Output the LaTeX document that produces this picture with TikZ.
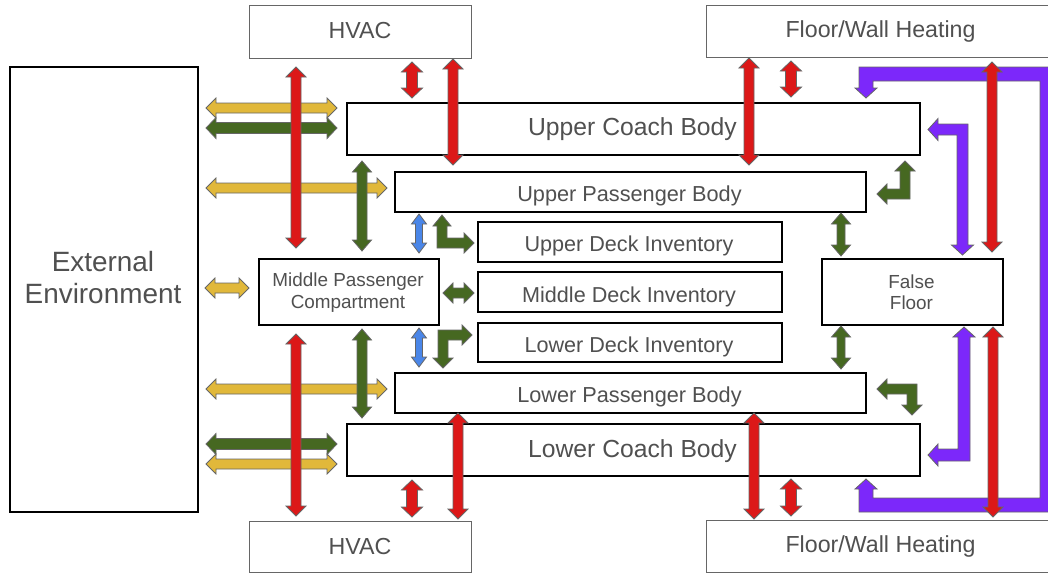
\documentclass[tikz,border=0pt]{standalone}
\usepackage{fontspec}
\setmainfont{Liberation Sans}
\definecolor{cYel}{RGB}{225,184,58}
\definecolor{cGrn}{RGB}{70,104,33}
\definecolor{cRed}{RGB}{220,24,24}
\definecolor{cBlu}{RGB}{74,134,232}
\definecolor{cPur}{RGB}{124,40,250}
\definecolor{cEdge}{RGB}{102,102,102}
\definecolor{cText}{RGB}{80,80,80}
\tikzset{
  mainbox/.style={draw=black, line width=2pt, fill=white, inner sep=0pt,
    anchor=north west},
  srcbox/.style={draw=cEdge, line width=1.1pt, fill=white, inner sep=0pt,
    anchor=north west},
  lbl/.style={text=cText, align=center, inner sep=0pt},
  blockarrow/.style={draw=cEdge, line width=0.8pt, line join=miter},
}
% shaft half width, head half width, head length
\def\sw{5}\def\hw{10}\def\hl{10}
% vertical two-headed block arrow: style, x, top tip y, bottom tip y
\newcommand\vdarrow[4]{%
  \path[blockarrow,#1] (#2,#3) -- ({#2+\hw},{#3+\hl}) -- ({#2+\sw},{#3+\hl})
    -- ({#2+\sw},{#4-\hl}) -- ({#2+\hw},{#4-\hl}) -- (#2,#4)
    -- ({#2-\hw},{#4-\hl}) -- ({#2-\sw},{#4-\hl}) -- ({#2-\sw},{#3+\hl})
    -- ({#2-\hw},{#3+\hl}) -- cycle;}
% horizontal two-headed block arrow: style, y, left tip x, right tip x
\newcommand\hdarrow[4]{%
  \path[blockarrow,#1] (#3,#2) -- ({#3+\hl},{#2-\hw}) -- ({#3+\hl},{#2-\sw})
    -- ({#4-\hl},{#2-\sw}) -- ({#4-\hl},{#2-\hw}) -- (#4,#2)
    -- ({#4-\hl},{#2+\hw}) -- ({#4-\hl},{#2+\sw}) -- ({#3+\hl},{#2+\sw})
    -- ({#3+\hl},{#2+\hw}) -- cycle;}
\begin{document}
\begin{tikzpicture}[x=1pt,y=-1pt]
\useasboundingbox (0,0) rectangle (1048,574);
\clip (0,0) rectangle (1048,574);

% ---- boxes ----
\node[mainbox, minimum width=188, minimum height=445] (ext) at (9,66) {};
\node[srcbox, minimum width=222, minimum height=53] (hvacT) at (249,5) {};
\node[srcbox, minimum width=349, minimum height=52] (fwhT) at (706,5) {};
\node[srcbox, minimum width=222, minimum height=51] (hvacB) at (249,521) {};
\node[srcbox, minimum width=349, minimum height=52] (fwhB) at (706,520) {};
\node[mainbox, minimum width=573, minimum height=52] (ucb) at (346,102) {};
\node[mainbox, minimum width=471, minimum height=40] (upb) at (394,171) {};
\node[mainbox, minimum width=304, minimum height=40] (udi) at (477,221) {};
\node[mainbox, minimum width=180, minimum height=66] (mpc) at (258,258) {};
\node[mainbox, minimum width=304, minimum height=40] (mdi) at (477,271) {};
\node[mainbox, minimum width=304, minimum height=39] (ldi) at (477,322) {};
\node[mainbox, minimum width=181, minimum height=66] (ff) at (821,258) {};
\node[mainbox, minimum width=471, minimum height=40] (lpb) at (394,372) {};
\node[mainbox, minimum width=573, minimum height=52] (lcb) at (346,423) {};

% ---- box labels ----
\node[lbl, font=\fontsize{27.9}{32}\selectfont] (extT) at (103,278) {External\\Environment};
\node[lbl, font=\fontsize{23.2}{27}\selectfont] (hvacTT) at (360,31) {HVAC};
\node[lbl, font=\fontsize{23.2}{27}\selectfont] (fwhTT) at (880.5,31) {Floor/Wall Heating};
\node[lbl, font=\fontsize{23.2}{27}\selectfont] (hvacBT) at (360,547) {HVAC};
\node[lbl, font=\fontsize{23.2}{27}\selectfont] (fwhBT) at (880.5,546.5) {Floor/Wall Heating};
\node[lbl, font=\fontsize{24.7}{29}\selectfont] (ucbT) at (632.5,129) {Upper Coach Body};
\node[lbl, font=\fontsize{21.7}{25}\selectfont] (upbT) at (629.5,196) {Upper Passenger Body};
\node[lbl, font=\fontsize{21.6}{25}\selectfont] (udiT) at (629,246) {Upper Deck Inventory};
\node[lbl, font=\fontsize{18.9}{21.5}\selectfont] (mpcT) at (348,292.5) {Middle Passenger\\Compartment};
\node[lbl, font=\fontsize{21.6}{25}\selectfont] (mdiT) at (629,296.5) {Middle Deck Inventory};
\node[lbl, font=\fontsize{21.6}{25}\selectfont] (ldiT) at (629,347) {Lower Deck Inventory};
\node[lbl, font=\fontsize{18.9}{21.5}\selectfont] (ffT) at (911.5,292) {False\\Floor};
\node[lbl, font=\fontsize{21.7}{25}\selectfont] (lpbT) at (629.5,397) {Lower Passenger Body};
\node[lbl, font=\fontsize{24.7}{29}\selectfont] (lcbT) at (632.5,451) {Lower Coach Body};

% ---- exchange with the external environment ----
\hdarrow{fill=cYel}{108}{206}{337}
{\def\sw{5.5}\def\hw{10.5}\hdarrow{fill=cGrn}{128}{206}{337}}
\hdarrow{fill=cYel}{188}{206}{387}
\hdarrow{fill=cYel}{288}{205}{249}
\hdarrow{fill=cYel}{389}{206}{387}
{\def\sw{5.5}\def\hw{10.5}\hdarrow{fill=cGrn}{444}{206}{337}}
\hdarrow{fill=cYel}{464}{206}{337}
\hdarrow{fill=cGrn}{293}{443}{474}

% ---- heating loop through the false floor ----
\path[blockarrow, fill=cPur] (866,98) -- (855,88) -- (859,88) -- (859,67)
  -- (1054,67) -- (1054,512) -- (859,512) -- (859,489) -- (855,489)
  -- (866,479) -- (877,489) -- (873,489) -- (873,498) -- (1040,498)
  -- (1040,81) -- (873,81) -- (873,88) -- (877,88) -- cycle;
\path[blockarrow, fill=cPur] (928,129.5) -- (938,118.5) -- (938,124) -- (968,124)
  -- (968,245) -- (973.5,245) -- (962.5,255) -- (951.5,245) -- (957,245)
  -- (957,135) -- (938,135) -- (938,140.5) -- cycle;
\path[blockarrow, fill=cPur] (928,455) -- (938,444) -- (938,449) -- (958,449)
  -- (958,337) -- (953,337) -- (964,327) -- (975,337) -- (970,337)
  -- (970,461) -- (938,461) -- (938,466) -- cycle;

% ---- bent exchanges ----
\path[blockarrow, fill=cGrn] (442,215) -- (451,226) -- (447,226) -- (447,238)
  -- (464,238) -- (464,233) -- (474,243) -- (464,253) -- (464,248)
  -- (437,248) -- (437,226) -- (433,226) -- cycle;
\path[blockarrow, fill=cGrn] (443,368) -- (433,358) -- (438,358) -- (438,330)
  -- (462,330) -- (462,325) -- (472,335) -- (462,345) -- (462,340)
  -- (448,340) -- (448,358) -- (453,358) -- cycle;
\path[blockarrow, fill=cGrn] (905,161) -- (915,171) -- (910,171) -- (910,199)
  -- (887,199) -- (887,204) -- (877,194) -- (887,184) -- (887,189)
  -- (900,189) -- (900,171) -- (895,171) -- cycle;
\path[blockarrow, fill=cGrn] (877,389) -- (887,379) -- (887,384) -- (917,384)
  -- (917,405) -- (922,405) -- (912,415) -- (902,405) -- (907,405)
  -- (907,394) -- (887,394) -- (887,399) -- cycle;

% ---- vertical exchanges ----
{\def\hw{9.5}\def\hl{11}
\vdarrow{fill=cGrn}{362}{161}{251}
\vdarrow{fill=cGrn}{362}{329}{418}
\def\sw{4}
\vdarrow{fill=cGrn}{841}{213}{256}
\vdarrow{fill=cGrn}{841}{326}{369}}
{\def\sw{3.5}\def\hw{7.5}
\vdarrow{fill=cBlu}{419}{214}{253}
\vdarrow{fill=cBlu}{419}{328}{367}}

\vdarrow{fill=cRed}{296}{67}{248}
\vdarrow{fill=cRed}{296}{334}{516}
{\def\sw{5.5}\def\hw{10.5}
\vdarrow{fill=cRed}{412}{62}{98}
\vdarrow{fill=cRed}{412}{480}{517}
\vdarrow{fill=cRed}{791}{61}{97}
\vdarrow{fill=cRed}{791}{479}{516}}
\vdarrow{fill=cRed}{453}{59}{165}
\vdarrow{fill=cRed}{458}{413}{519}
\vdarrow{fill=cRed}{749}{58}{165}
\vdarrow{fill=cRed}{754}{413}{519}
\vdarrow{fill=cRed}{992}{62}{252}
\vdarrow{fill=cRed}{993}{327}{517}
\end{tikzpicture}
\end{document}
